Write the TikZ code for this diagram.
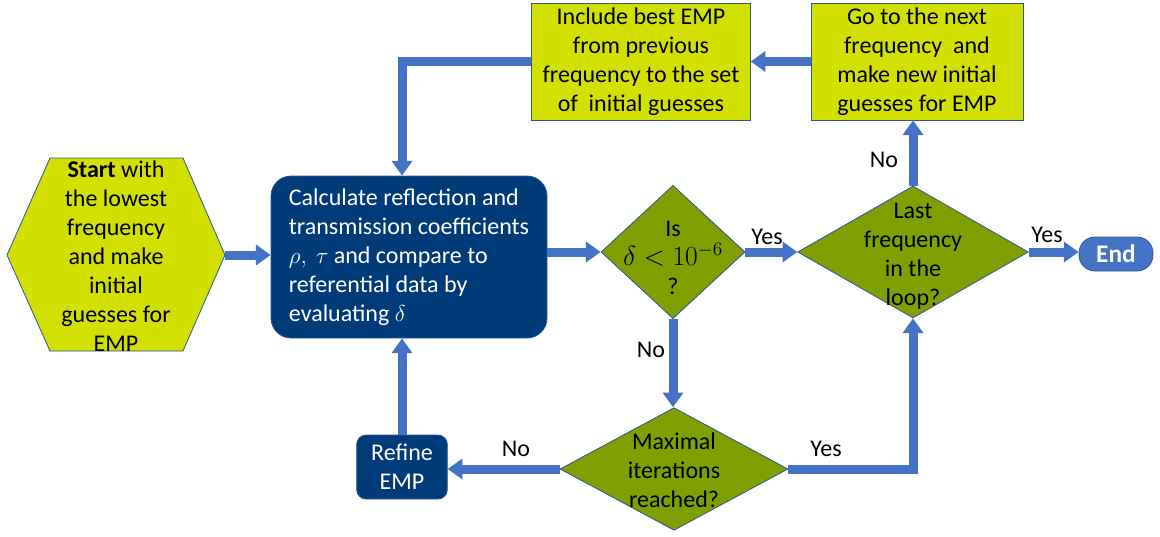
\documentclass[tikz,border=0pt]{standalone}
\usepackage[no-math]{fontspec}
\setmainfont{Carlito}
\usetikzlibrary{arrows.meta,shapes.geometric}
\definecolor{ygreen}{HTML}{D2E000}
\definecolor{olive}{HTML}{7FA000}
\definecolor{dblue}{HTML}{003B79}
\definecolor{ablue}{HTML}{4472C4}
\definecolor{edgeblue}{HTML}{2F5597}
\begin{document}
\begin{tikzpicture}[x=0.75pt,y=-0.75pt,
  font=\fontsize{18}{21.75}\selectfont,
  flow/.style={line width=6.75pt, draw=ablue, line join=miter,
    -{Triangle[width=15pt,length=11pt]}},
  ybox/.style={rectangle, draw=edgeblue, line width=0.6pt, fill=ygreen,
    minimum width=164pt, minimum height=87.75pt, inner sep=0pt, align=center},
  dbox/.style={rectangle, draw=edgeblue, line width=0.6pt, fill=dblue,
    text=white, inner sep=0pt},
  dia/.style={diamond, draw=edgeblue, line width=0.6pt, fill=olive, inner sep=0pt},
  txt/.style={align=center, inner sep=0pt},
  lbl/.style={inner sep=0pt}]
\useasboundingbox (0,0) rectangle (1160,536);

% start hexagon
\draw[draw=edgeblue, line width=0.6pt, fill=ygreen]
  (7,255) -- (50,158) -- (183,158) -- (225,255) -- (183,351) -- (50,351) -- cycle;
\coordinate (hexR) at (225,255);
\node[txt] (start) at (116,256) {\textbf{Start} with\\the lowest\\frequency\\and make\\initial\\guesses for\\EMP};

% calculation box
\node[dbox, rounded corners=15pt, minimum width=207pt, minimum height=121.5pt, align=left]
  (calc) at (409,257) {Calculate reflection and\\transmission coefficients\\$\rho,\ \tau$ and compare to\\referential data by\\evaluating $\delta$};

% diamonds
\node[dia, minimum width=108pt, minimum height=100pt] (d1) at (673,252) {};
\node[txt] (d1t) at (673,258) {Is\\{\fontsize{22}{21.75}\selectfont$\delta<10^{-6}$}\\?};
\node[dia, minimum width=173pt, minimum height=99pt] (d2) at (913,252) {};
\node[txt] (d2t) at (913,256) {Last\\frequency\\in the\\loop?};
\node[dia, minimum width=171pt, minimum height=92pt] (d3) at (674,469) {};
\node[txt] (d3t) at (674,470) {Maximal\\iterations\\reached?};

% End
\node[dbox, draw=edgeblue, fill=ablue, rounded corners=12pt, minimum width=55.5pt,
  minimum height=25.5pt, font=\fontsize{19}{22}\selectfont\bfseries] (end) at (1116,254) {End};

% Refine
\node[dbox, rounded corners=7pt, minimum width=68pt, minimum height=48pt, align=center]
  (refine) at (402,467) {Refine\\EMP};

% top boxes
\node[ybox] (inc) at (641,61.5) {Include best EMP\\from previous\\frequency to the set\\of\ \ initial guesses};
\node[ybox, minimum width=159pt] (go) at (917,61.5) {Go to the next\\frequency\ \ and\\make new initial\\guesses for EMP};

% connectors
\draw[flow] (hexR) -- (calc.west |- hexR);
\draw[flow] (calc.east |- d1.west) -- (d1.west);
\draw[flow] (d1.east) -- (d2.west);
\draw[flow] (d2.east) -- (end.west |- d2.east);
\draw[flow] (d2.north) -- (d2.north |- go.south);
\draw[flow] (go.west |- inc.east) -- (inc.east);
\draw[flow] (inc.west) -| (calc.north -| refine.north);
\draw[flow] (d1.south) -- (d1.south |- d3.north);
\draw[flow] (d3.west) -- (d3.west -| refine.east);
\draw[flow] (refine.north) -- (refine.north |- calc.south);
\draw[flow] (d3.east) -| (d2.south);

% labels
\node[lbl] (yes1) at (767,237) {Yes};
\node[lbl] (yes2) at (1047,235) {Yes};
\node[lbl] (no1) at (884,160) {No};
\node[lbl] (no2) at (651,350) {No};
\node[lbl] (no3) at (516,449) {No};
\node[lbl] (yes3) at (826,449) {Yes};
\end{tikzpicture}
\end{document}
